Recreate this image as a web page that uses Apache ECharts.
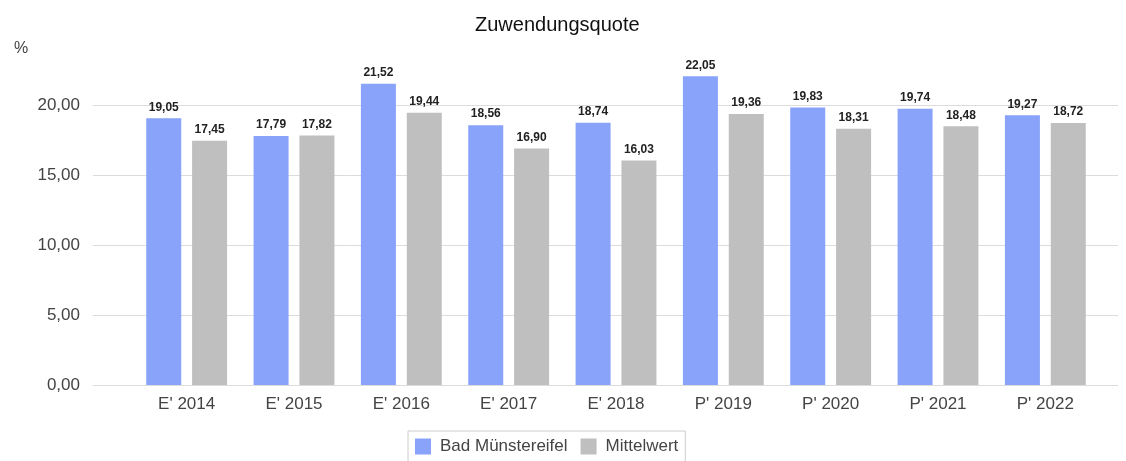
<!DOCTYPE html>
<html>
<head>
<meta charset="utf-8">
<script src="https://cdn.jsdelivr.net/npm/echarts@6/dist/echarts.min.js"></script>
<style>
  html, body { margin: 0; padding: 0; background: #fff; }
  #main { width: 1126px; height: 461px; }
</style>
</head>
<body>
<div id="main"></div>
<script>
const categories = ["E' 2014", "E' 2015", "E' 2016", "E' 2017", "E' 2018", "P' 2019", "P' 2020", "P' 2021", "P' 2022"];
const badMuenstereifel = [19.05, 17.79, 21.52, 18.56, 18.74, 22.05, 19.83, 19.74, 19.27];
const mittelwert = [17.45, 17.82, 19.44, 16.90, 16.03, 19.36, 18.31, 18.48, 18.72];
const seriesNames = ['Bad Münstereifel', 'Mittelwert'];

const font = '"Liberation Sans", Arial, sans-serif';
const fmt = (v) => v.toFixed(2).replace('.', ',');

var myChart = echarts.init(document.getElementById('main'));

// bar label
const barLabel = {
  show: true,
  position: 'top',
  distance: 5,
  fontFamily: font,
  fontSize: 12,
  fontWeight: 'bold',
  color: '#222',
  formatter: (p) => fmt(p.value)
};

myChart.setOption({
  animation: false,
  textStyle: { fontFamily: font },
  title: [
    { text: 'Zuwendungsquote', left: 470, top: 10,
      textStyle: { fontFamily: font, fontSize: 20, fontWeight: 'normal', color: '#111' } },
    { text: '%', left: 9, top: 36,
      textStyle: { fontFamily: font, fontSize: 16, fontWeight: 'normal', color: '#444' } }
  ],
  legend: {
    data: seriesNames,
    left: 408,
    top: 431,
    itemWidth: 16,
    itemHeight: 16,
    itemGap: 13,
    padding: [7, 7, 7, 7],
    borderColor: '#ccc',
    borderWidth: 1,
    icon: 'rect',
    textStyle: { fontFamily: font, fontSize: 17, color: '#444', padding: [0, 0, 0, 4] }
  },
  grid: [
    // wide grid just for gridlines + y labels
    { left: 93, right: 8, top: 35, height: 350 },
    // bar grid
    { left: 133, right: 27, top: 35, height: 350 }
  ],
  xAxis: [
    { gridIndex: 0, type: 'value', show: false, min: 0, max: 1 },
    {
      gridIndex: 1, type: 'category', data: categories,
      axisLine: { show: false }, axisTick: { show: false },
      axisLabel: { fontFamily: font, fontSize: 17, color: '#444', margin: 11 }
    }
  ],
  yAxis: [
    {
      gridIndex: 0, type: 'value', min: 0, max: 25, interval: 5,
      axisLine: { show: false }, axisTick: { show: false },
      axisLabel: { fontFamily: font, fontSize: 17, color: '#444', margin: 13,
        formatter: (v) => (v === 25 ? '' : fmt(v)) },
      splitLine: { lineStyle: { color: ['#dcdcdc', '#dcdcdc', '#dcdcdc', '#dcdcdc', '#dcdcdc', 'rgba(0,0,0,0)'], width: 1 } }
    },
    {
      gridIndex: 1, type: 'value', min: 0, max: 25, interval: 5, show: false,
      splitLine: { show: false }
    }
  ],
  series: [
    {
      name: seriesNames[0], type: 'bar', xAxisIndex: 1, yAxisIndex: 1,
      data: badMuenstereifel, barWidth: 35, barGap: '31%',
      itemStyle: { color: '#88a3f9' }, label: barLabel
    },
    {
      name: seriesNames[1], type: 'bar', xAxisIndex: 1, yAxisIndex: 1,
      data: mittelwert, barWidth: 35,
      itemStyle: { color: '#bfbfbf' }, label: barLabel
    }
  ]
});
</script>
</body>
</html>
